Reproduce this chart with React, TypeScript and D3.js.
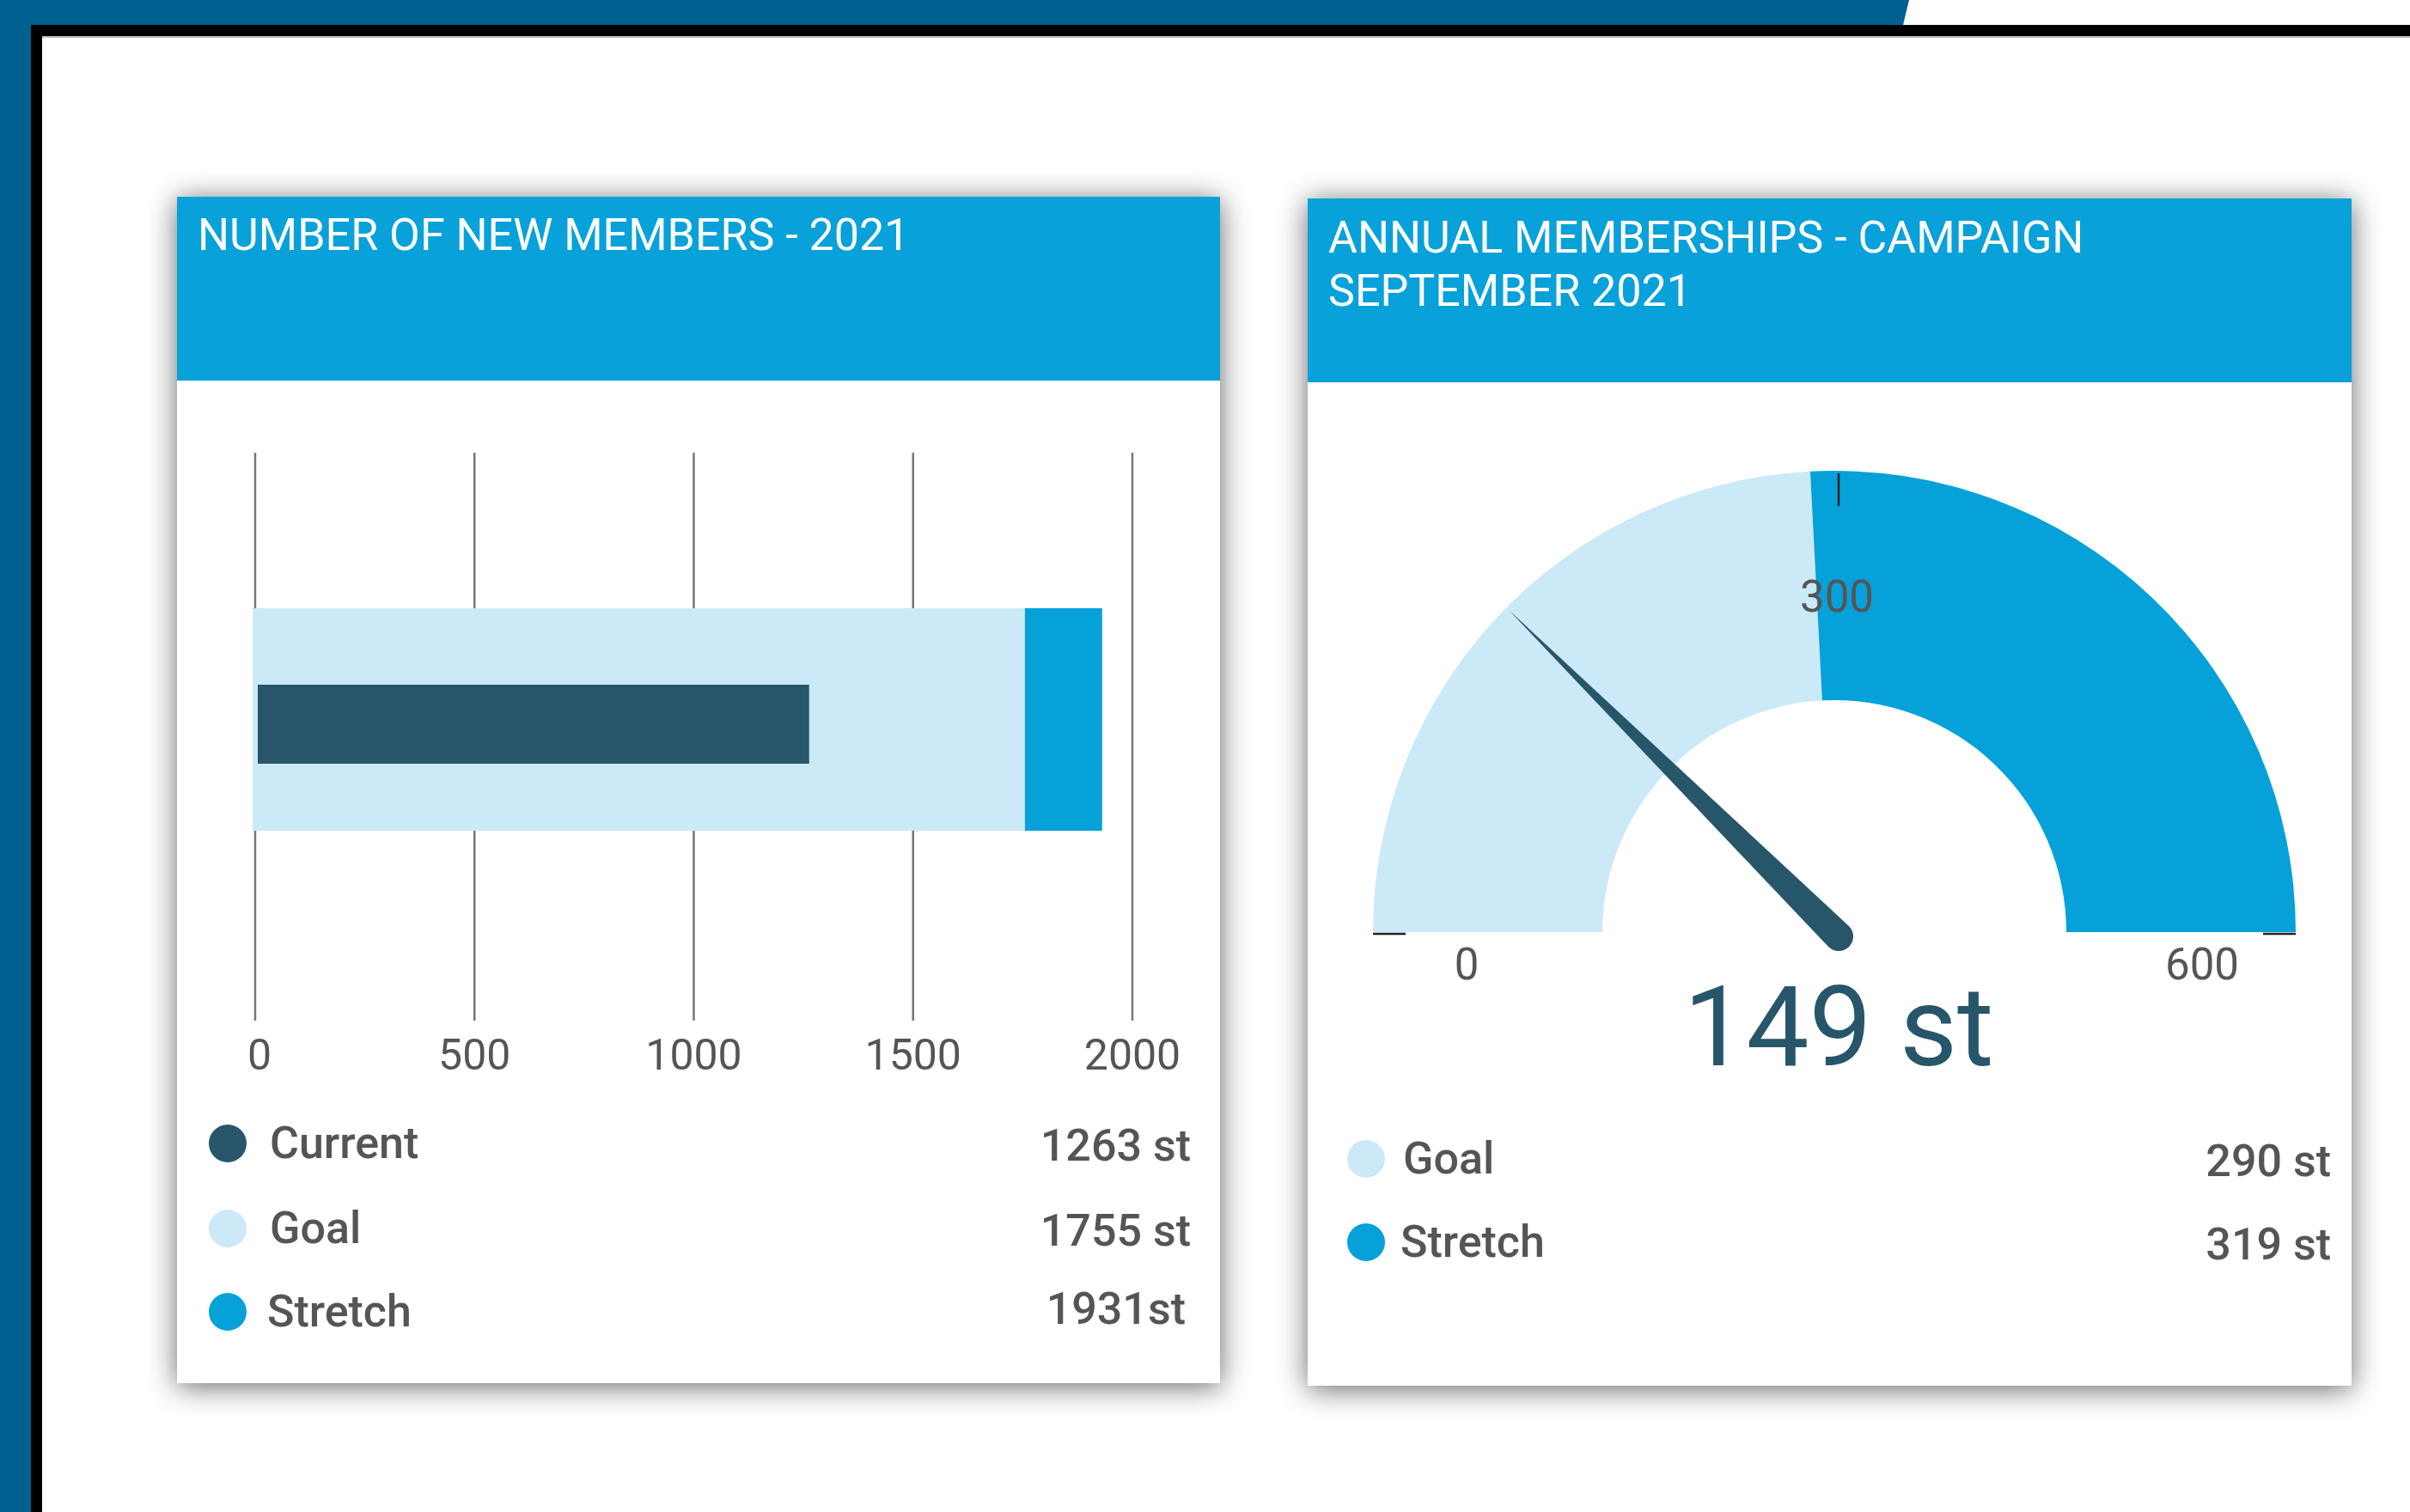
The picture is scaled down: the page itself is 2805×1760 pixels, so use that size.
import React from "react";
import * as d3 from "d3";

// ---------- data ----------
const barCategories = ["Current", "Goal", "Stretch"];
const barValues = [1263, 1755, 1931];
const barValueLabels = ["1263 st", "1755 st", "1931st"];
const barTicks = [0, 500, 1000, 1500, 2000];

const gaugeCategories = ["Goal", "Stretch"];
const gaugeValues = [290, 319];
const gaugeValueLabels = ["290 st", "319 st"];
const gaugeCurrent = 149;
const gaugeTicks = [0, 300, 600];
const gaugeLabel = "149 st";

const titleLeft = ["NUMBER OF NEW MEMBERS - 2021"];
const titleRight = ["ANNUAL MEMBERSHIPS - CAMPAIGN", "SEPTEMBER 2021"];

// ---------- styles ----------
const C_DARK = "#27566b";
const C_LIGHT = "#cce9f8";
const C_MID = "#06a1d9";
const C_HEADER = "#08a1da";
const C_TEXT = "#555555";
const FONT = "Roboto, 'Noto Sans', sans-serif";

const W = 2805;
const H = 1760;

function Card({ x, y, w, h, headerH, title, titleBaselines }: any) {
  return (
    <g>
      <rect x={x} y={y} width={w} height={h} fill="#fff" filter="url(#shadow)" />
      <rect x={x} y={y} width={w} height={headerH} fill={C_HEADER} />
      {title.map((t: string, i: number) => (
        <text key={i} x={x + 24} y={titleBaselines[i]} fill="#fff" fontSize={52} fontFamily={FONT}>
          {t}
        </text>
      ))}
    </g>
  );
}

export default function App() {
  // ---- bullet chart ----
  const x = d3.scaleLinear().domain([0, 2000]).range([297, 1318]);
  const gridTop = 527;
  const gridBottom = 1188;
  const outerY0 = 708;
  const outerY1 = 967;
  const innerY0 = 797;
  const innerY1 = 889;
  const legendLeftRows = [1331, 1430, 1527];
  const legendColors = [C_DARK, C_LIGHT, C_MID];

  // ---- gauge ----
  const cx = 2135;
  const cy = 1085;
  const R = 537;
  const Ri = 270;
  const ang = d3.scaleLinear().domain([0, 600]).range([-Math.PI / 2, Math.PI / 2]);
  const arc = d3.arc<any>().innerRadius(Ri).outerRadius(R);
  const goalArc = arc({ startAngle: ang(0), endAngle: ang(gaugeValues[0]) } as any) || "";
  const restArc = arc({ startAngle: ang(gaugeValues[0]), endAngle: ang(600) } as any) || "";

  const theta = ang(gaugeCurrent);
  const dir = [Math.sin(theta), -Math.cos(theta)];
  const perp = [Math.cos(theta), Math.sin(theta)];
  const px = cx + 5;
  const py = cy + 5;
  const needleLen = 540;
  const baseR = 17;
  const tip = [px + dir[0] * needleLen, py + dir[1] * needleLen];
  const nb = d3.path();
  nb.moveTo(tip[0], tip[1]);
  nb.lineTo(px + perp[0] * baseR, py + perp[1] * baseR);
  nb.arc(px, py, baseR, Math.atan2(perp[1], perp[0]), Math.atan2(-perp[1], -perp[0]), false);
  nb.closePath();

  const tickLen = 38;
  const gaugeLegendRows = [1349, 1446];
  const gaugeLegendColors = [C_LIGHT, C_MID];

  return (
    <svg
      width={W}
      height={H}
      style={{ position: "absolute", left: 0, top: 0, display: "block" }}
      fontFamily={FONT}
    >
      <defs>
        <filter id="shadow" x="-10%" y="-10%" width="120%" height="120%">
          <feGaussianBlur in="SourceAlpha" stdDeviation="17" />
          <feOffset dx="0" dy="4" result="b" />
          <feComponentTransfer>
            <feFuncA type="linear" slope="0.6" />
          </feComponentTransfer>
          <feMerge>
            <feMergeNode />
            <feMergeNode in="SourceGraphic" />
          </feMerge>
        </filter>
      </defs>

      {/* page frame */}
      <rect x={0} y={0} width={W} height={H} fill="#fff" />
      <polygon points={`0,0 2222,0 2215,29 0,29`} fill="#006090" />
      <rect x={0} y={0} width={36} height={H} fill="#006090" />
      <rect x={36} y={29} width={W - 36} height={13} fill="#000" />
      <rect x={36} y={29} width={13} height={H - 29} fill="#000" />
      <rect x={49} y={42} width={W - 49} height={2} fill="#bdbdbd" />

      {/* cards */}
      <Card x={206} y={229} w={1214} h={1381} headerH={214} title={titleLeft} titleBaselines={[291]} />
      <Card x={1522} y={231} w={1215} h={1382} headerH={214} title={titleRight} titleBaselines={[294, 356]} />

      {/* ---- bullet chart ---- */}
      <g>
        {barTicks.map((t) => (
          <line key={t} x1={x(t)} x2={x(t)} y1={gridTop} y2={gridBottom} stroke="#777" strokeWidth={2.5} />
        ))}
        <rect x={x(0) - 3} y={outerY0} width={x(barValues[1]) - x(0) + 3} height={outerY1 - outerY0} fill={C_LIGHT} />
        <rect x={x(barValues[1])} y={outerY0} width={x(barValues[2]) - x(barValues[1])} height={outerY1 - outerY0} fill={C_MID} />
        <rect x={x(0) + 3} y={innerY0} width={x(barValues[0]) - x(0) - 3} height={innerY1 - innerY0} fill={C_DARK} />
        {barTicks.map((t) => (
          <text key={t} x={x(t) + (t === 0 ? 5 : 0)} y={1245} textAnchor="middle" fontSize={50} fill={C_TEXT}>
            {t}
          </text>
        ))}
        {barCategories.map((c, i) => (
          <g key={c}>
            <circle cx={265} cy={legendLeftRows[i]} r={22} fill={legendColors[i]} />
            <text x={i === 2 ? 311 : 314} y={legendLeftRows[i] + 17} fontSize={52} fontWeight={500} fill={C_TEXT}>
              {c}
            </text>
            <text x={i === 2 ? 1380 : 1386} y={legendLeftRows[i] + (i === 2 ? 14 : 20)} textAnchor="end" fontSize={52} fontWeight={500} fill={C_TEXT}>
              {barValueLabels[i]}
            </text>
          </g>
        ))}
      </g>

      {/* ---- gauge ---- */}
      <g>
        <path d={goalArc} transform={`translate(${cx},${cy})`} fill={C_LIGHT} />
        <path d={restArc} transform={`translate(${cx},${cy})`} fill={C_MID} />
        {gaugeTicks.map((t) => {
          const a = ang(t);
          const s = [Math.sin(a), -Math.cos(a)];
          return (
            <line
              key={t}
              x1={cx + s[0] * R + (t === 300 ? 5 : 0)}
              y1={cy + s[1] * R + (t === 300 ? 3 : 2)}
              x2={cx + s[0] * (R - tickLen) + (t === 300 ? 5 : 0)}
              y2={cy + s[1] * (R - tickLen) + (t === 300 ? 3 : 2)}
              stroke="#222"
              strokeWidth={2.5}
            />
          );
        })}
        {gaugeTicks.map((t) => {
          const a = ang(t);
          const s = [Math.sin(a), -Math.cos(a)];
          const lx = t === 300 ? cx + 3 : cx + s[0] * 428;
          const ly = t === 300 ? cy - 373 : cy + 55;
          return (
            <text key={t} x={lx} y={ly} textAnchor="middle" fontSize={51} fill={C_TEXT}>
              {t}
            </text>
          );
        })}
        <path d={nb.toString()} fill={C_DARK} />
        <text x={cx + 5} y={1240} textAnchor="middle" fontSize={130} fill={C_DARK}>
          {gaugeLabel}
        </text>
        {gaugeCategories.map((c, i) => (
          <g key={c}>
            <circle cx={1590} cy={gaugeLegendRows[i]} r={22} fill={gaugeLegendColors[i]} />
            <text x={i === 0 ? 1633 : 1630} y={gaugeLegendRows[i] + 17} fontSize={52} fontWeight={500} fill={C_TEXT}>
              {c}
            </text>
            <text x={2713} y={gaugeLegendRows[i] + 20} textAnchor="end" fontSize={52} fontWeight={500} fill={C_TEXT}>
              {gaugeValueLabels[i]}
            </text>
          </g>
        ))}
      </g>
    </svg>
  );
}
